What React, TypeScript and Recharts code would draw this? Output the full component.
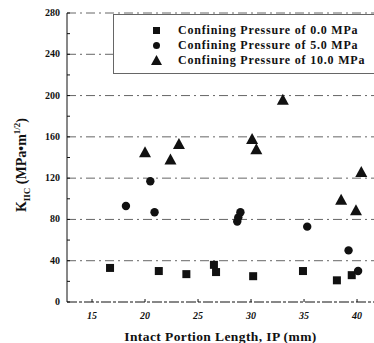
import React from "react";
import {
  ScatterChart,
  Scatter,
  XAxis,
  YAxis,
  CartesianGrid,
} from "recharts";

// confining pressure 0.0 MPa
const ip0 = [16.7, 21.3, 23.9, 26.5, 26.7, 30.2, 34.9, 38.1, 39.5];
const k0 = [33, 30, 27, 36, 29, 25, 30, 21, 26];

// confining pressure 5.0 MPa
const ip5 = [18.2, 20.5, 20.9, 28.7, 28.8, 29.0, 35.3, 39.2, 40.1];
const k5 = [93, 117, 87, 78, 82, 87, 73, 50, 30];

// confining pressure 10.0 MPa
const ip10 = [20.0, 22.4, 23.2, 30.1, 30.5, 33.0, 38.5, 39.9, 40.4];
const k10 = [145, 138, 153, 158, 148, 196, 99, 89, 126];

const xTicks = [15, 20, 25, 30, 35, 40];
const yTicks = [0, 20, 40, 60, 80, 100, 120, 140, 160, 180, 200, 220, 240, 260, 280];
const yGrid = [40, 80, 120, 160, 200, 240, 280];

const seriesNames = [
  "Confining Pressure of 0.0 MPa",
  "Confining Pressure of 5.0 MPa",
  "Confining Pressure of 10.0 MPa",
];

const toPoints = (xs: number[], ys: number[]) =>
  xs.map((x, i) => ({ ip: x, k: ys[i] }));

const INK = "#111";
const font = "'Liberation Serif', 'DejaVu Serif', serif";

const Square = (p: any) => (
  <rect x={p.cx - 4} y={p.cy - 4} width={8} height={8} fill={INK} />
);
const Dot = (p: any) => <circle cx={p.cx} cy={p.cy} r={4.2} fill={INK} />;
const Tri = (p: any) => (
  <polygon
    points={`${p.cx},${p.cy - 6} ${p.cx - 6},${p.cy + 5} ${p.cx + 6},${p.cy + 5}`}
    fill={INK}
  />
);

const YTick = (p: any) => {
  const v = p.payload.value;
  const major = v % 40 === 0;
  return (
    <g>
      <line x1={p.x} x2={p.x + 3} y1={p.y} y2={p.y} stroke={INK} />
      {major && (
        <text
          x={p.x - 7}
          y={p.y + 3}
          textAnchor="end"
          fontSize={10}
          fontWeight="bold"
          fontFamily={font}
          fill={INK}
        >
          {v}
        </text>
      )}
    </g>
  );
};

const XTick = (p: any) => (
  <g>
    <line x1={p.x} x2={p.x} y1={p.y} y2={p.y - 3} stroke={INK} />
    <text
      x={p.x}
      y={p.y + 17}
      textAnchor="middle"
      fontSize={10}
      fontWeight="bold"
      fontFamily={font}
      fontStyle="italic"
      fill={INK}
    >
      {p.payload.value}
    </text>
  </g>
);

const LegendBox = () => {
  const marks = [
    <rect key="s" x={2} y={2} width={7} height={7} fill={INK} />,
    <circle key="c" cx={5.5} cy={5.5} r={3.5} fill={INK} />,
    <polygon key="t" points="5.5,0 0,10 11,10" fill={INK} />,
  ];
  return (
    <div
      style={{
        position: "absolute",
        left: 113,
        top: 14,
        background: "#fff",
        border: "1px solid #666",
        borderRight: "none",
        width: 261,
        height: 60,
        boxSizing: "border-box",
        paddingTop: 8,
      }}
    >
      {seriesNames.map((n, i) => (
        <div
          key={n}
          style={{
            display: "flex",
            alignItems: "center",
            height: 15,
            fontFamily: font,
            fontWeight: "bold",
            fontSize: 12,
            color: INK,
            letterSpacing: 0.8,
          }}
        >
          <svg width={11} height={11} style={{ marginLeft: 37, marginRight: 16 }}>
            {marks[i]}
          </svg>
          {n}
        </div>
      ))}
    </div>
  );
};

export default function App() {
  return (
    <div style={{ position: "absolute", left: 0, top: 0, width: 374, height: 343, background: "#fff" }}>
      <ScatterChart
        width={374}
        height={343}
        margin={{ top: 13, right: 0, left: 0, bottom: 0 }}
      >
        <CartesianGrid
          horizontal
          vertical={false}
          horizontalValues={yGrid}
          stroke="#666"
          strokeDasharray="9 4 2 4"
        />
        <XAxis
          type="number"
          dataKey="ip"
          domain={[12.64, 41.6]}
          allowDataOverflow
          ticks={xTicks}
          height={41}
          tickSize={0}
          tickMargin={0}
          tick={<XTick />}
          axisLine={{ stroke: INK, strokeDasharray: "10 2 3 2" }}
          tickLine={false}
          label={{
            value: "Intact Portion Length, IP (mm)",
            position: "insideBottom",
            offset: 2,
            fontSize: 13.5,
            fontWeight: "bold",
            fontFamily: font,
            fill: INK,
            letterSpacing: 0.4,
          }}
        />
        <YAxis
          type="number"
          dataKey="k"
          domain={[0, 280]}
          ticks={yTicks}
          interval={0}
          width={67}
          tickSize={0}
          tickMargin={0}
          tick={<YTick />}
          axisLine={{ stroke: INK }}
          tickLine={false}
          label={() => {
            const cx = 26;
            const cy = 165;
            return (
              <text
                x={cx}
                y={cy}
                transform={`rotate(-90 ${cx} ${cy})`}
                textAnchor="middle"
                fontSize={14}
                fontWeight="bold"
                fontFamily={font}
                fill={INK}
              >
                K
                <tspan fontSize={9} dy={4}>IIC</tspan>
                <tspan dy={-4}> (MPa•m</tspan>
                <tspan fontSize={9} dy={-6}>1/2</tspan>
                <tspan dy={6}>)</tspan>
              </text>
            );
          }}
        />
        <Scatter
          name={seriesNames[0]}
          data={toPoints(ip0, k0)}
          shape={Square}
          isAnimationActive={false}
        />
        <Scatter
          name={seriesNames[1]}
          data={toPoints(ip5, k5)}
          shape={Dot}
          isAnimationActive={false}
        />
        <Scatter
          name={seriesNames[2]}
          data={toPoints(ip10, k10)}
          shape={Tri}
          isAnimationActive={false}
        />
      </ScatterChart>
      <LegendBox />
    </div>
  );
}
